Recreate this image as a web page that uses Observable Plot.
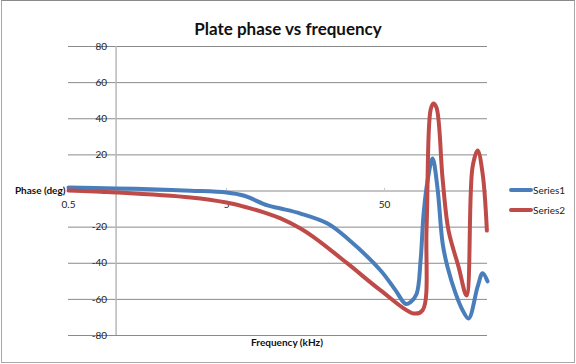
<!DOCTYPE html>
<html>
<head>
<meta charset="utf-8">
<script src="https://cdn.jsdelivr.net/npm/d3@7"></script>
<script src="https://cdn.jsdelivr.net/npm/@observablehq/plot@0.6"></script>
<style>
  body { margin: 0; background: #fff; }
  #wrap { position: relative; width: 576px; height: 364px; font-family: Lato, "Open Sans", sans-serif; }
  #frame { position: absolute; left: 1px; top: 0px; width: 572px; height: 361px; border: 1px solid #a8a8a8; border-top-color: #8a8a8a; pointer-events: none; }
  .leg { position: absolute; left: 509px; font-size: 10px; color: #222; display: flex; align-items: center; }
  .sw { width: 24px; height: 4px; border-radius: 2px; margin-right: 0px; }
</style>
</head>
<body>
<div id="wrap"><div id="frame"></div></div>
<script>
const title = "Plate phase vs frequency";
const xTitle = "Frequency (kHz)";
const yTitle = "Phase (deg)";
const seriesNames = ["Series1", "Series2"];
const seriesColors = ["#4a7ebb", "#be4b48"];
const xTicks = [0.5, 5, 50];
const yTicks = [-80, -60, -40, -20, 0, 20, 40, 60, 80];

const freq1 = [0.5, 1.0, 1.65, 2.96, 5, 6.4, 9.09, 11.0, 14.7, 21.8, 29.1, 47.2, 58.7, 67.9, 73, 79.7, 84.5, 88.3, 93.6, 100.6, 108, 116.5, 125, 140.7, 155.8, 170, 194, 208.6, 224];
const phase1 = [1.9, 1.4, 1.0, 0.2, -0.8, -2.5, -8, -9.7, -12.5, -18, -26.3, -44, -55, -62.5, -61.5, -57, -38.5, -12.5, 5.8, 18, 2, -29, -42, -56.7, -66, -70.6, -53, -45.5, -50];

const freq2 = [0.5, 1.0, 2.96, 5, 6.4, 9.09, 11.0, 14.7, 17.8, 29.1, 47.2, 76.4, 87, 92.2, 97.8, 102, 106.7, 116.5, 127, 147, 165, 180, 194, 208.6, 222];
const phase2 = [0.3, -0.8, -3.6, -6.4, -8.6, -12.5, -15.2, -20.8, -25.6, -40.1, -55, -67.8, -66, -20, 45, 48.5, 46, 6.5, -22, -42, -57.8, 13, 22.4, 9.7, -21.9];

const s1 = freq1.map((f, i) => ({f, p: phase1[i]}));
const s2 = freq2.map((f, i) => ({f, p: phase2[i]}));

const chart = Plot.plot({
  width: 576,
  height: 364,
  marginLeft: 68,
  marginRight: 89,
  marginTop: 46,
  marginBottom: 29,
  style: {fontFamily: "Lato, 'Open Sans', sans-serif", fontSize: "10px", color: "#222", background: "transparent"},
  x: {type: "log", domain: [0.5, 224], axis: null},
  y: {domain: [-80, 80], axis: null},
  marks: [
    Plot.ruleY(yTicks, {stroke: "#8a8a8a", strokeWidth: 1}),
    Plot.ruleX([1], {y1: -80, y2: 80, stroke: "#b8b8b8", strokeWidth: 1.5}),
    Plot.ruleX(xTicks.slice(1), {y1: 0, y2: 1.5, stroke: "#c8c8c8"}),
    Plot.text(yTicks, {x: 1, y: d => d, text: d => String(d), dx: -9, textAnchor: "end", fill: "#222"}),
    Plot.text(xTicks, {x: d => d, y: 0, text: d => String(d), dy: 14, fill: "#222"}),
    Plot.text([yTitle], {x: 0.5, y: 0, text: d => d, dx: -3, textAnchor: "end", fontWeight: "bold", fill: "#111"}),
    Plot.text([xTitle], {frameAnchor: "bottom", dx: 9, dy: 10, text: d => d, fontWeight: "bold", fill: "#111"}),
    Plot.text([title], {frameAnchor: "top", dx: 10, dy: -24, text: d => d, fontWeight: "bold", fontSize: 17, fill: "#111"}),
    Plot.line(s1, {x: "f", y: "p", stroke: seriesColors[0], strokeWidth: 4, curve: "catmull-rom"}),
    Plot.line(s2, {x: "f", y: "p", stroke: seriesColors[1], strokeWidth: 4, curve: "catmull-rom"})
  ]
});
const wrap = document.getElementById("wrap");
chart.style.position = "absolute";
chart.style.left = "0px";
chart.style.top = "0px";
wrap.appendChild(chart);

seriesNames.forEach((name, i) => {
  const d = document.createElement("div");
  d.className = "leg";
  d.style.top = (184 + i * 20) + "px";
  const sw = document.createElement("div");
  sw.className = "sw";
  sw.style.background = seriesColors[i];
  const t = document.createElement("span");
  t.textContent = name;
  d.appendChild(sw);
  d.appendChild(t);
  wrap.appendChild(d);
});
</script>
</body>
</html>
